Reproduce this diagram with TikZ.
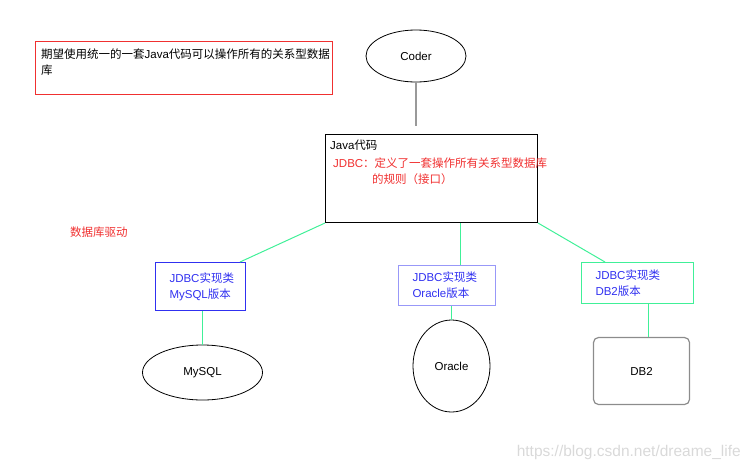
\documentclass[tikz,border=0pt]{standalone}
\usepackage{fontspec}
\setmainfont{Liberation Sans}
\newfontfamily\zhfont{Noto Sans CJK SC}
\newcommand\zh[1]{{\zhfont #1}}
\usetikzlibrary{shapes.geometric}
\definecolor{noteRed}{HTML}{F03030}
\definecolor{drvBlue}{HTML}{3030F0}
\definecolor{drvLight}{HTML}{9898F8}
\definecolor{linkGreen}{HTML}{40F098}
\begin{document}
\begin{tikzpicture}[x=1pt,y=-1pt,font=\fontsize{11.5}{16}\selectfont]
    \useasboundingbox (0,0) rectangle (750,472);
    \tikzset{
        drvbox/.style={draw=#1, align=left, text=drvBlue, inner xsep=14pt, inner ysep=0pt, line width=1pt},
        dbshape/.style={draw=#1, line width=0.8pt, inner sep=0pt},
        link/.style={draw=linkGreen, line width=1pt}
    }
    \begin{scope}[every node/.style={inner sep=0pt}]

        \node[draw=noteRed, line width=1pt, minimum width=297, minimum height=53] (note) at (184,68) {};
        \node[draw=black, ellipse, line width=0.8pt, minimum width=100, minimum height=52] (coder) at (416,56) {Coder};
        \node[draw=black, line width=1pt, minimum width=212, minimum height=88] (java) at (431.5,178.5) {};

    \end{scope}
    \coordinate (coderend) at (416,126);

    \node[anchor=north west, align=left, inner sep=0pt] (notetext) at (41,49) {\zh{期望使用统一的一套}Java\zh{代码可以操作所有的关系型数据}\\\zh{库}};
    \node[anchor=west, inner sep=0pt] (javatext) at (330,145) {Java\zh{代码}};
    \node[anchor=north west, align=left, inner sep=0pt, text=noteRed] (jdbc) at (333,158) {JDBC\zh{：定义了一套操作所有关系型数据库}\\\hspace*{39pt}\zh{的规则（接口）}};
    \node[anchor=west, inner sep=0pt, text=noteRed] (driver) at (70,232) {\zh{数据库驱动}};

    \node[drvbox=drvBlue, text width=62, minimum height=48] (mysqldrv) at (200.5,286.5) {JDBC\zh{实现类}\\MySQL\zh{版本}};
    \node[drvbox=drvLight, text width=69, minimum height=40] (oracledrv) at (447,285.5) {JDBC\zh{实现类}\\Oracle\zh{版本}};
    \node[drvbox=linkGreen, text width=84, minimum height=41] (db2drv) at (637.5,283) {JDBC\zh{实现类}\\DB2\zh{版本}};

    \node[dbshape=black, ellipse, minimum width=120, minimum height=55] (mysql) at (202.5,372.5) {MySQL};
    \node[dbshape=black, ellipse, minimum width=77, minimum height=92] (oracle) at (451.5,366) {Oracle};
    \node[dbshape=black!45, line width=1.2pt, rounded corners=5pt, minimum width=96, minimum height=67] (db2) at (641.5,371) {DB2};

    \node[anchor=east, inner sep=0pt, text=black!15, font=\fontsize{15.5}{16}\selectfont] (mark) at (741,452) {https://blog.csdn.net/dreame\_life};

    \path (coder) edge[draw=black!40, line width=2pt] (coderend);
    \path (java.south west) edge[link] ([xshift=-6pt]mysqldrv.north east);
    \path ([xshift=13.5pt]oracledrv.north) edge[link] ([xshift=13.5pt]oracledrv.north |- java.south);
    \path (java.south east) edge[link] ([xshift=24pt]db2drv.north west);
    \path (mysqldrv.south -| mysql) edge[link] (mysql.north);
    \path (oracledrv.south -| oracle) edge[link] (oracle.north);
    \path ([xshift=7pt]db2drv.south -| db2) edge[link] ([xshift=7pt]db2.north);
\end{tikzpicture}
\end{document}
